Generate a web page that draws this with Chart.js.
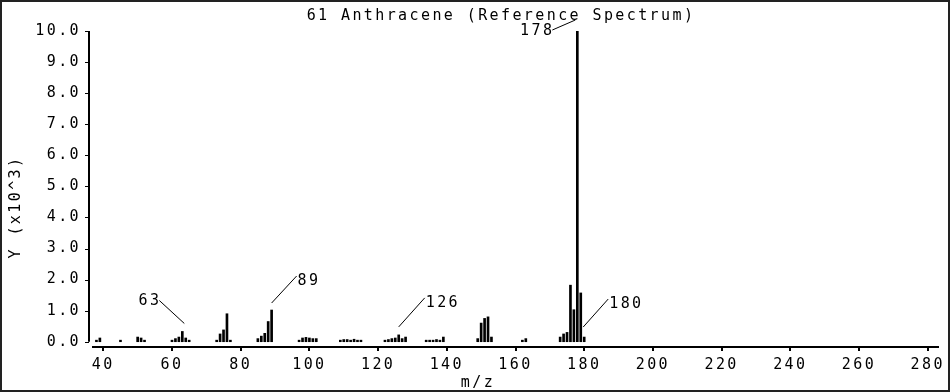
<!DOCTYPE html>
<html>
<head>
<meta charset="utf-8">
<script src="https://cdn.jsdelivr.net/npm/chart.js@4.4.0/dist/chart.umd.min.js"></script>
<style>
  body { margin: 0; background: #fff; }
  canvas { display: block; }
</style>
</head>
<body>
<canvas id="myChart" width="950" height="392"></canvas>
<script>
// spectrum data (intensity in units of 10^3)
const chartTitle = '61 Anthracene (Reference Spectrum)';
const xTitle = 'm/z';
const yTitle = 'Y (x10^3)';

const mzValues = [38, 39, 45, 50, 51, 52, 60, 61, 62, 63, 64, 65,
  73, 74, 75, 76, 77, 85, 86, 87, 88, 89,
  97, 98, 99, 100, 101, 102, 109, 110, 111, 112, 113, 114, 115,
  122, 123, 124, 125, 126, 127, 128, 134, 135, 136, 137, 138, 139,
  149, 150, 151, 152, 153, 162, 163,
  173, 174, 175, 176, 177, 178, 179, 180];
const intensities = [0.05, 0.12, 0.05, 0.15, 0.12, 0.05, 0.05, 0.1, 0.15, 0.33, 0.12, 0.05,
  0.05, 0.25, 0.38, 0.9, 0.05, 0.1, 0.18, 0.27, 0.65, 1.02,
  0.05, 0.12, 0.14, 0.12, 0.1, 0.1, 0.05, 0.07, 0.07, 0.05, 0.08, 0.05, 0.05,
  0.05, 0.07, 0.1, 0.12, 0.22, 0.1, 0.15, 0.05, 0.05, 0.05, 0.07, 0.05, 0.15,
  0.1, 0.6, 0.75, 0.8, 0.15, 0.05, 0.1,
  0.15, 0.25, 0.3, 1.82, 1.03, 10.0, 1.57, 0.15];

const xTicks = [40, 60, 80, 100, 120, 140, 160, 180, 200, 220, 240, 260, 280];
const yTicks = [0, 1, 2, 3, 4, 5, 6, 7, 8, 9, 10];
const peakLabels = [63, 89, 126, 178, 180];

const FONT = '15px "DejaVu Sans Mono"';
const LS = '2.4px';

// leader line placement for each labelled peak (pixels from the peak top)
const leaders = {
  63:  { sx: 2, sy: -8, ex: -23, ey: -31, side: 'left' },
  89:  { sx: 0, sy: -7, ex: 25, ey: -34, side: 'right' },
  126: { sx: 0, sy: -8, ex: 26, ey: -37, side: 'right' },
  178: { sx: -2, sy: -11, ex: -25, ey: -1, side: 'left' },
  180: { sx: -1, sy: -10, ex: 24, ey: -38, side: 'right' }
};

const spacing = {
  id: 'spacing',
  beforeUpdate(chart) { chart.ctx.letterSpacing = LS; },
  beforeDraw(chart) {
    const ctx = chart.ctx;
    ctx.letterSpacing = LS;
    ctx.save();
    ctx.fillStyle = '#fff';
    ctx.fillRect(0, 0, chart.width, chart.height);
    ctx.restore();
  }
};

const decorations = {
  id: 'decorations',
  afterDraw(chart) {
    const ctx = chart.ctx;
    const xs = chart.scales.x, ys = chart.scales.y;
    ctx.save();
    ctx.letterSpacing = LS;
    ctx.fillStyle = '#000';
    ctx.strokeStyle = '#000';
    ctx.font = FONT;

    // frame
    ctx.lineWidth = 2;
    ctx.strokeStyle = '#222';
    ctx.strokeRect(1, 1, chart.width - 2, chart.height - 2);
    ctx.strokeStyle = '#000';

    // y axis line with ticks
    const ax = chart.chartArea.left - 4;
    ctx.beginPath();
    ctx.moveTo(ax, ys.getPixelForValue(yTicks[yTicks.length - 1]));
    ctx.lineTo(ax, ys.getPixelForValue(yTicks[0]));
    ctx.stroke();
    ctx.lineWidth = 1;
    yTicks.forEach(v => {
      const y = Math.round(ys.getPixelForValue(v)) + 0.5;
      ctx.beginPath();
      ctx.moveTo(ax - 4, y);
      ctx.lineTo(ax, y);
      ctx.stroke();
    });

    // titles
    ctx.textBaseline = 'middle';
    ctx.textAlign = 'center';
    ctx.fillText(chartTitle, 501, 16);
    ctx.fillText(xTitle, 478, 383);
    ctx.save();
    ctx.translate(16, 207);
    ctx.rotate(-Math.PI / 2);
    ctx.fillText(yTitle, 0, 0);
    ctx.restore();

    // peak labels
    ctx.lineWidth = 1;
    peakLabels.forEach(m => {
      const i = mzValues.indexOf(m);
      const px = xs.getPixelForValue(m);
      const py = ys.getPixelForValue(intensities[i]);
      const l = leaders[m];
      const x1 = px + l.sx, y1 = py + l.sy;
      const x2 = px + l.ex, y2 = py + l.ey;
      ctx.beginPath();
      ctx.moveTo(x1, y1);
      ctx.lineTo(x2, y2);
      ctx.stroke();
      if (l.side === 'left') {
        ctx.textAlign = 'right';
        ctx.fillText(String(m), x2 + 2, y2 + 1);
      } else {
        ctx.textAlign = 'left';
        ctx.fillText(String(m), x2 + 1, y2 + 5);
      }
    });
    ctx.restore();
  }
};

Chart.defaults.font.family = '"DejaVu Sans Mono"';
Chart.defaults.font.size = 15;
Chart.defaults.color = '#000';

new Chart('myChart', {
  type: 'bar',
  data: {
    datasets: [{
      data: mzValues.map((m, i) => ({ x: m, y: intensities[i] })),
      backgroundColor: '#000',
      borderWidth: 0,
      barThickness: 2
    }]
  },
  options: {
    responsive: false,
    animation: false,
    layout: { padding: { left: 0, top: 31, right: 12, bottom: 0 } },
    plugins: {
      legend: { display: false },
      tooltip: { enabled: false }
    },
    scales: {
      x: {
        type: 'linear',
        offset: false,
        min: 37,
        max: 283,
        afterBuildTicks(scale) { scale.ticks = xTicks.map(v => ({ value: v })); },
        afterFit(scale) { scale.height = 45; },
        ticks: { padding: 5, maxRotation: 0, autoSkip: false },
        grid: { display: true, offset: false, drawOnChartArea: false, drawTicks: true, tickLength: 4, color: '#000', lineWidth: 2 },
        border: { display: true, color: '#000', width: 2 }
      },
      y: {
        min: -0.17,
        max: 10,
        afterBuildTicks(scale) { scale.ticks = yTicks.map(v => ({ value: v })); },
        afterFit(scale) { scale.width = 93; },
        ticks: { padding: 12, callback: v => v.toFixed(1) },
        grid: { display: false, drawTicks: false },
        border: { display: false }
      }
    }
  },
  plugins: [spacing, decorations]
});
</script>
</body>
</html>
